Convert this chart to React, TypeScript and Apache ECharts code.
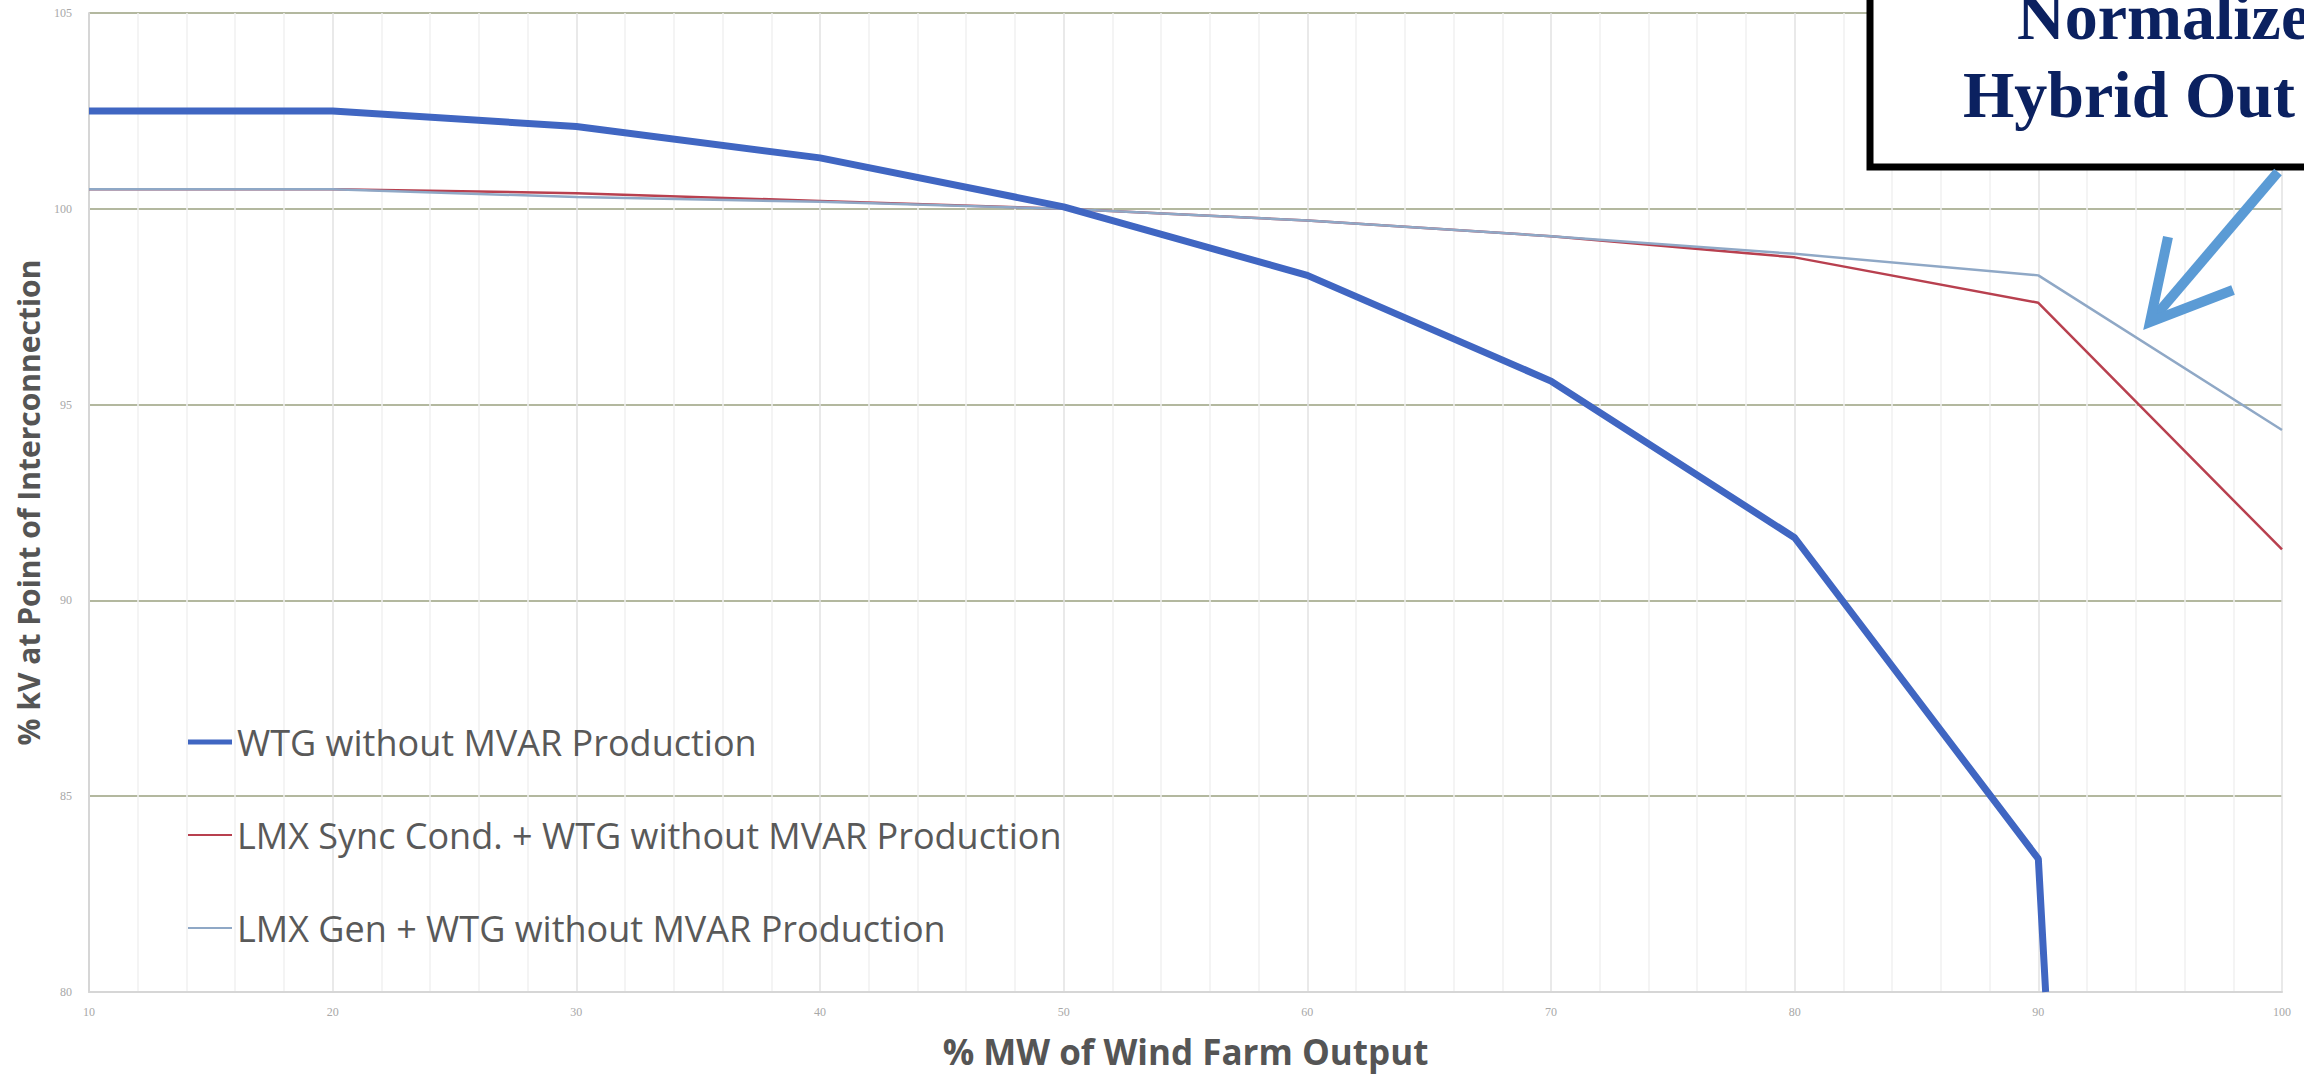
import React, { useEffect, useRef } from "react";
import * as echarts from "echarts";

const xTicks = [10, 20, 30, 40, 50, 60, 70, 80, 90, 100];
const wtgX = [10, 20, 30, 40, 50, 60, 70, 80, 90, 90.3];
const wtgY = [102.5, 102.5, 102.1, 101.3, 100.05, 98.3, 95.6, 91.6, 83.4, 80];
const syncY = [100.5, 100.5, 100.4, 100.2, 100.0, 99.7, 99.3, 98.76, 97.6, 91.3];
const genY = [100.5, 100.5, 100.3, 100.18, 100.0, 99.7, 99.3, 98.85, 98.3, 94.35];
const seriesNames = [
  "WTG without MVAR Production",
  "LMX Sync Cond. + WTG without MVAR Production",
  "LMX Gen + WTG without MVAR Production",
];
const calloutLines = ["Normalize", "Hybrid Out"];

const pair = (xs: number[], ys: number[]) => xs.map((x, i) => [x, ys[i]]);

export default function App() {
  const ref = useRef<HTMLDivElement>(null);
  useEffect(() => {
    if (!ref.current) return;
    const chart = echarts.init(ref.current, undefined, { renderer: "svg" });
    const option: any = {
      animation: false,
      backgroundColor: "#ffffff",
      grid: { left: 89, right: 22, top: 13, bottom: 82, containLabel: false },
      xAxis: {
        type: "value",
        min: 10,
        max: 100,
        interval: 10,
        name: "% MW of Wind Farm Output",
        nameLocation: "middle",
        nameGap: 42,
        nameTextStyle: { fontFamily: "Open Sans", fontWeight: "bold", fontSize: 35, color: "#555555" },
        axisLine: { show: true, lineStyle: { color: "#d6d6d6", width: 2 } },
        axisTick: { show: false },
        axisLabel: { margin: 14, fontSize: 12, color: "#a8a8a8", fontFamily: "Liberation Serif" },
        splitLine: { show: true, lineStyle: { color: "#e2e2e2", width: 1.5 } },
        minorTick: { show: false, splitNumber: 5 },
        minorSplitLine: { show: true, lineStyle: { color: "#f0f0f0", width: 1.5 } },
      },
      yAxis: {
        type: "value",
        min: 80,
        max: 105,
        interval: 5,
        name: "% kV at Point of Interconnection",
        nameLocation: "middle",
        nameGap: 46,
        nameTextStyle: { fontFamily: "Open Sans", fontWeight: "bold", fontSize: 30, color: "#555555" },
        axisLine: { show: true, lineStyle: { color: "#d6d6d6", width: 2 } },
        axisTick: { show: false },
        axisLabel: { margin: 17, fontSize: 12, color: "#a8a8a8", fontFamily: "Liberation Serif" },
        splitLine: { show: true, lineStyle: { color: "#b3b89f", width: 2 } },
      },
      legend: {
        orient: "vertical",
        left: 188,
        top: 722,
        padding: 0,
        itemWidth: 44,
        itemHeight: 14,
        itemGap: 53,
        textStyle: { fontFamily: "Open Sans", fontSize: 36, color: "#595959", lineHeight: 40 },
        data: [
          { name: seriesNames[0], icon: "path://M0 0H44V5H0Z" },
          { name: seriesNames[1], icon: "path://M0 0H44V2H0Z" },
          { name: seriesNames[2], icon: "path://M0 0H44V2H0Z" },
        ],
      },
      series: [
        {
          name: seriesNames[0],
          type: "line",
          data: pair(wtgX, wtgY),
          symbol: "none",
          lineStyle: { color: "#4066c2", width: 7 },
          itemStyle: { color: "#4066c2" },
          z: 4,
        },
        {
          name: seriesNames[1],
          type: "line",
          data: pair(xTicks, syncY),
          symbol: "none",
          lineStyle: { color: "#b8404f", width: 2.5 },
          itemStyle: { color: "#b8404f" },
          z: 3,
        },
        {
          name: seriesNames[2],
          type: "line",
          data: pair(xTicks, genY),
          symbol: "none",
          lineStyle: { color: "#8fa8c6", width: 2.5 },
          itemStyle: { color: "#8fa8c6" },
          z: 3,
        },
      ],
      graphic: [
        {
          type: "rect",
          shape: { x: 1870, y: -20, width: 500, height: 187 },
          style: { fill: "#ffffff", stroke: "#000000", lineWidth: 7 },
          z: 100,
        },
        {
          type: "text",
          x: 2017,
          y: 16,
          style: {
            text: calloutLines[0],
            fontFamily: "Liberation Serif",
            fontWeight: "bold",
            fontSize: 66,
            fill: "#0b2160",
            align: "left",
            verticalAlign: "middle",
          },
          z: 101,
        },
        {
          type: "text",
          x: 1963,
          y: 94,
          style: {
            text: calloutLines[1],
            fontFamily: "Liberation Serif",
            fontWeight: "bold",
            fontSize: 66,
            fill: "#0b2160",
            align: "left",
            verticalAlign: "middle",
          },
          z: 101,
        },
        {
          type: "polyline",
          shape: { points: [[2278, 172], [2152, 320]] },
          style: { stroke: "#5b9bd5", lineWidth: 10, fill: "none" },
          z: 102,
        },
        {
          type: "polyline",
          shape: { points: [[2168, 237], [2150, 322], [2233, 290]] },
          style: { stroke: "#5b9bd5", lineWidth: 10, fill: "none", lineJoin: "miter" },
          z: 102,
        },
      ],
    };
    chart.setOption(option);
    return () => chart.dispose();
  }, []);
  return (
    <div
      ref={ref}
      style={{ position: "fixed", left: 0, top: 0, width: 2304, height: 1074, background: "#fff" }}
    />
  );
}
